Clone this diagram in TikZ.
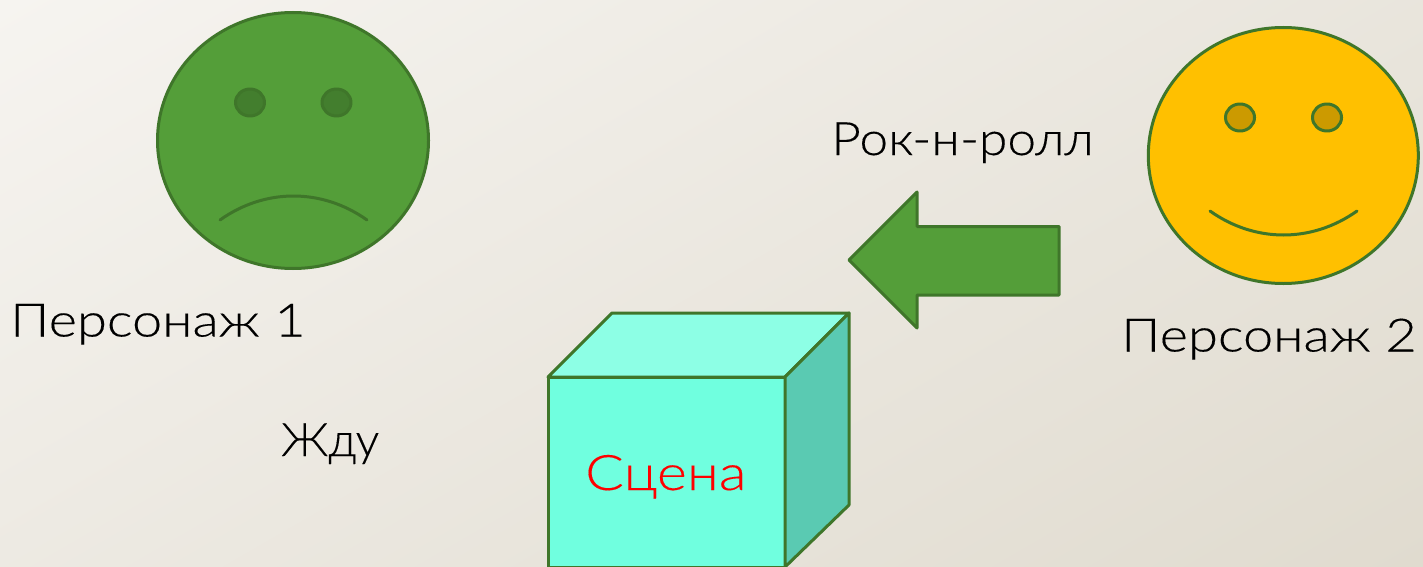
\documentclass[tikz,border=0pt]{standalone}
\usepackage{fontspec}
\setmainfont[FakeBold=0.25]{Lato Light}
\definecolor{bgA}{HTML}{F6F4F0}
\definecolor{bgB}{HTML}{E0DBCF}
\definecolor{grn}{HTML}{549E39}
\definecolor{grnD}{HTML}{3F762A}
\definecolor{grnE}{HTML}{437E2E}
\definecolor{ylw}{HTML}{FFC000}
\definecolor{ylwE}{HTML}{CC9A00}
\definecolor{cubeF}{HTML}{70FFDF}
\definecolor{cubeT}{HTML}{8DFFE5}
\definecolor{cubeR}{HTML}{5ACAB2}
\tikzset{
  x=1pt,y=-1pt,
  shape line/.style={draw=grnD,line width=3pt,line join=round,line cap=round},
  label text/.style={anchor=base west,inner sep=0pt,text=black,
    font=\fontsize{46}{50}\selectfont\addfontfeatures{FakeStretch=#1}},
}
\begin{document}
\begin{tikzpicture}
\useasboundingbox (0,0) rectangle (1423,567);
\begin{scope}
\clip (0,0) rectangle (1423,567);
\begin{scope}[transform canvas={shift={(711.5,283.5)},rotate=-60}]
\shade[left color=bgA,right color=bgB] (-601,-900) rectangle (601,900);
\end{scope}
\end{scope}
% sad face
\fill[grn,shape line] (293,140.5) ellipse [x radius=135.5,y radius=128];
\fill[grnE,shape line] (250,102.5) ellipse [x radius=14.5,y radius=13.5];
\fill[grnE,shape line] (336.5,102.5) ellipse [x radius=14.5,y radius=13.5];
\draw[shape line] (220,220) .. controls (265,188) and (322,188) .. (367,220);
% happy face
\fill[ylw,shape line] (1283.3,155.5) ellipse [x radius=135,y radius=128];
\fill[ylwE,shape line] (1240,117.5) ellipse [x radius=14.5,y radius=13.5];
\fill[ylwE,shape line] (1327,117.5) ellipse [x radius=14.5,y radius=13.5];
\draw[shape line] (1210,211) .. controls (1255,243) and (1312,243) .. (1357,211);
% arrow
\fill[grn,shape line] (849,260) -- (917,192) -- (917,226.5) -- (1059,226.5) -- (1059,295) -- (917,295) -- (917,328) -- cycle;
% cube
\fill[cubeF,shape line] (548,377) rectangle (785,567);
\fill[cubeT,shape line] (548,377) -- (612,313) -- (849,313) -- (785,377) -- cycle;
\fill[cubeR,shape line] (785,377) -- (849,313) -- (849,505) -- (785,567) -- cycle;
% text
\node[label text=1.18] (p1) at (10,336.5) {Персонаж 1};
\node[label text=1.18] (p2) at (1121,351.5) {Персонаж 2};
\node[label text=1.12] (rock) at (831,155) {Рок-н-ролл};
\node[label text=1.02] (wait) at (281,456) {Жду};
\node[label text=1.17,text=red,font=\fontsize{49}{52}\selectfont\addfontfeatures{FakeStretch=1.17}] (stage) at (585,490) {Сцена};
\end{tikzpicture}
\end{document}
